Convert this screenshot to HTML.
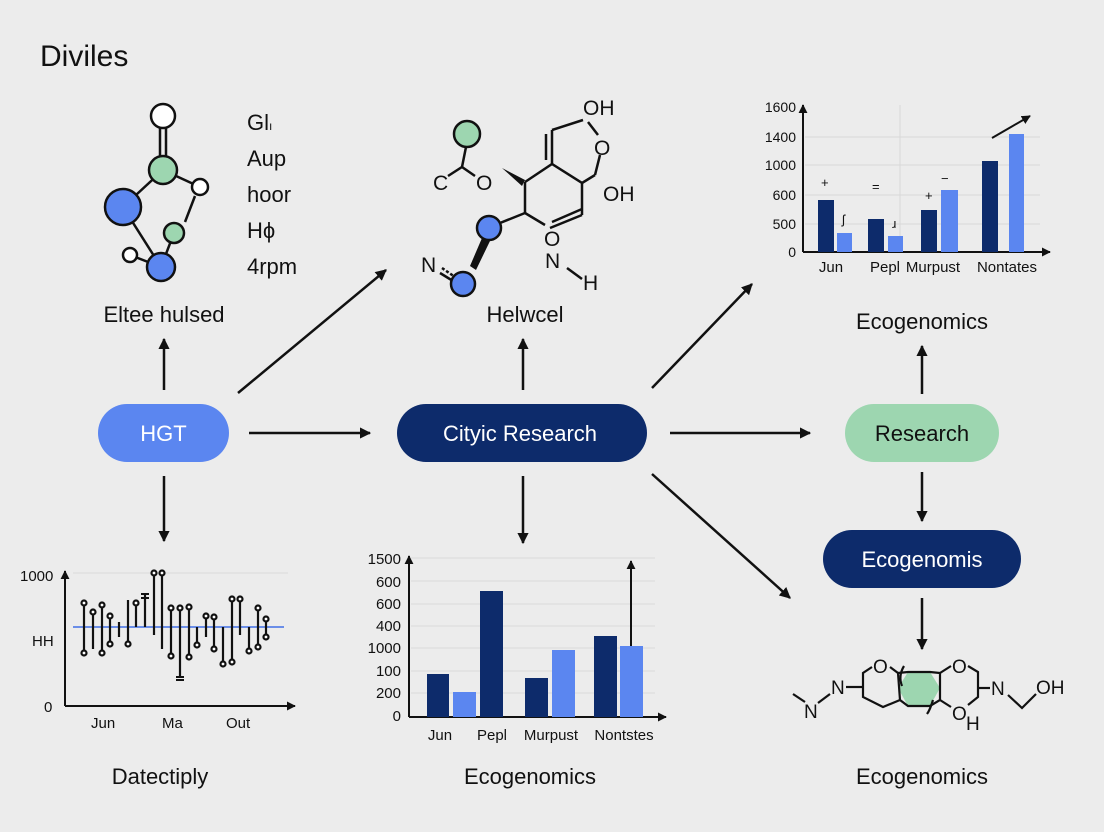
<!DOCTYPE html>
<html><head><meta charset="utf-8"><style>
html,body{margin:0;padding:0;background:#ececec;}
svg{display:block;font-family:"Liberation Sans",sans-serif;}
</style></head><body>
<svg width="1104" height="832" viewBox="0 0 1104 832" xmlns="http://www.w3.org/2000/svg">
<defs>
<marker id="ah" viewBox="0 0 10 10" refX="9" refY="5" markerWidth="4.5" markerHeight="4.5" orient="auto"><path d="M0,0 L10,5 L0,10 z" fill="#111"/></marker>
</defs>
<rect width="1104" height="832" fill="#ececec"/>
<text x="40" y="66" font-size="30" fill="#111" font-weight="500">Diviles</text>

<!-- pills -->
<rect x="98" y="404" width="131" height="58" rx="29" fill="#5b86f0"/>
<text x="163.5" y="441" font-size="22" fill="#fff" text-anchor="middle">HGT</text>
<rect x="397" y="404" width="250" height="58" rx="29" fill="#0d2b6b"/>
<text x="520" y="441" font-size="22" fill="#fff" text-anchor="middle">Cityic Research</text>
<rect x="845" y="404" width="154" height="58" rx="29" fill="#9dd6b0"/>
<text x="922" y="441" font-size="22" fill="#111" text-anchor="middle">Research</text>
<rect x="823" y="530" width="198" height="58" rx="29" fill="#0d2b6b"/>
<text x="922" y="567" font-size="22" fill="#fff" text-anchor="middle">Ecogenomis</text>

<!-- arrows -->
<g stroke="#111" stroke-width="2.5" marker-end="url(#ah)">
<line x1="249" y1="433" x2="370" y2="433"/>
<line x1="670" y1="433" x2="810" y2="433"/>
<line x1="164" y1="390" x2="164" y2="339"/>
<line x1="164" y1="476" x2="164" y2="541"/>
<line x1="523" y1="390" x2="523" y2="339"/>
<line x1="523" y1="476" x2="523" y2="543"/>
<line x1="238" y1="393" x2="386" y2="270"/>
<line x1="652" y1="388" x2="752" y2="284"/>
<line x1="652" y1="474" x2="790" y2="598"/>
<line x1="922" y1="394" x2="922" y2="346"/>
<line x1="922" y1="472" x2="922" y2="521"/>
<line x1="922" y1="598" x2="922" y2="649"/>
</g>

<!-- labels -->
<g font-size="22" fill="#111" text-anchor="middle">
<text x="164" y="322">Eltee hulsed</text>
<text x="525" y="322">Helwcel</text>
<text x="922" y="329">Ecogenomics</text>
<text x="160" y="784">Datectiply</text>
<text x="530" y="784">Ecogenomics</text>
<text x="922" y="784">Ecogenomics</text>
</g>

<!-- top-left molecule -->
<g stroke="#111" stroke-width="2.5" fill="none">
<line x1="160" y1="128" x2="160" y2="157"/><line x1="166" y1="128" x2="166" y2="157"/>
<line x1="163" y1="170" x2="123" y2="207"/>
<line x1="163" y1="170" x2="200" y2="187"/>
<line x1="195" y1="196" x2="185" y2="222"/>
<line x1="174" y1="233" x2="161" y2="267"/>
<line x1="123" y1="207" x2="161" y2="267"/>
<line x1="130" y1="255" x2="161" y2="267"/>
</g>
<g stroke="#111" stroke-width="2.5">
<circle cx="163" cy="116" r="12" fill="#fff"/>
<circle cx="163" cy="170" r="14" fill="#9dd6b0"/>
<circle cx="123" cy="207" r="18" fill="#5b86f0"/>
<circle cx="200" cy="187" r="8" fill="#fff"/>
<circle cx="174" cy="233" r="10" fill="#9dd6b0"/>
<circle cx="130" cy="255" r="7" fill="#fff"/>
<circle cx="161" cy="267" r="14" fill="#5b86f0"/>
</g>
<g font-size="22" fill="#111">
<text x="247" y="130">Gl<tspan font-size="12">ı</tspan></text>
<text x="247" y="166">Aup</text>
<text x="247" y="202">hoor</text>
<text x="247" y="238">Hϕ</text>
<text x="247" y="274">4rpm</text>
</g>

<!-- center molecule -->
<g stroke="#111" stroke-width="2.5" fill="none">
<polyline points="448,176 462,167 475,176"/>
<line x1="466" y1="147" x2="462" y2="167"/>
<polyline points="525,182 552,164 582,183 582,215"/>
<line x1="525" y1="182" x2="525" y2="213"/>
<line x1="525" y1="213" x2="545" y2="225"/>
<line x1="552" y1="222" x2="582" y2="209"/>
<line x1="550" y1="228" x2="582" y2="215"/>
<line x1="552" y1="164" x2="552" y2="130"/><line x1="546" y1="160" x2="546" y2="134"/>
<line x1="552" y1="130" x2="583" y2="120"/>
<line x1="588" y1="122" x2="598" y2="135"/>
<line x1="600" y1="155" x2="595" y2="175"/>
<line x1="595" y1="175" x2="582" y2="183"/>
<line x1="525" y1="213" x2="495" y2="225"/>
<line x1="567" y1="268" x2="582" y2="279"/>
<line x1="442" y1="268" x2="455" y2="277" stroke-dasharray="3 2"/>
<line x1="440" y1="273" x2="453" y2="281"/>
</g>
<polygon points="502,168 525,180 522,186" fill="#111"/>
<polygon points="482,238 490,241 476,270 470,266" fill="#111"/>
<g stroke="#111" stroke-width="2.5">
<circle cx="467" cy="134" r="13" fill="#9dd6b0"/>
<circle cx="489" cy="228" r="12" fill="#5b86f0"/>
<circle cx="463" cy="284" r="12" fill="#5b86f0"/>
</g>
<g font-size="21" fill="#111">
<text x="433" y="190">C</text><text x="476" y="190">O</text>
<text x="583" y="115">OH</text><text x="594" y="155">O</text>
<text x="603" y="201">OH</text>
<text x="544" y="246">O</text><text x="545" y="268">N</text><text x="583" y="290">H</text>
<text x="421" y="272">N</text>
</g>

<!-- top-right chart -->
<g stroke="#d8d8d8" stroke-width="1">
<line x1="805" y1="137" x2="1040" y2="137"/><line x1="805" y1="165" x2="1040" y2="165"/>
<line x1="805" y1="195" x2="1040" y2="195"/><line x1="805" y1="224" x2="1040" y2="224"/>
<line x1="900" y1="105" x2="900" y2="250"/>
</g>
<line x1="803" y1="252" x2="803" y2="105" stroke="#111" stroke-width="2" marker-end="url(#ah)"/>
<line x1="803" y1="252" x2="1050" y2="252" stroke="#111" stroke-width="2" marker-end="url(#ah)"/>
<g font-size="14" fill="#111" text-anchor="end">
<text x="796" y="112">1600</text><text x="796" y="142">1400</text><text x="796" y="170">1000</text>
<text x="796" y="200">600</text><text x="796" y="229">500</text><text x="796" y="257">0</text>
</g>
<g fill="#0d2b6b"><rect x="818" y="200" width="16" height="52"/><rect x="868" y="219" width="16" height="33"/><rect x="921" y="210" width="16" height="42"/><rect x="982" y="161" width="16" height="91"/></g>
<g fill="#5b86f0"><rect x="837" y="233" width="15" height="19"/><rect x="888" y="236" width="15" height="16"/><rect x="941" y="190" width="17" height="62"/><rect x="1009" y="134" width="15" height="118"/></g>
<line x1="992" y1="138" x2="1030" y2="116" stroke="#111" stroke-width="2" marker-end="url(#ah)"/>
<g font-size="13" fill="#111"><text x="821" y="187">+</text><text x="872" y="191">=</text><text x="925" y="200">+</text><text x="941" y="183">−</text><text x="842" y="224">ʃ</text><text x="892" y="228">ɹ</text></g>
<g font-size="15" fill="#111" text-anchor="middle">
<text x="831" y="272">Jun</text><text x="885" y="272">Pepl</text><text x="933" y="272">Murpust</text><text x="1007" y="272">Nontates</text>
</g>

<!-- bottom-center chart -->
<g stroke="#dadada" stroke-width="1">
<line x1="411" y1="558" x2="655" y2="558"/><line x1="411" y1="581" x2="655" y2="581"/><line x1="411" y1="604" x2="655" y2="604"/>
<line x1="411" y1="626" x2="655" y2="626"/><line x1="411" y1="648" x2="655" y2="648"/><line x1="411" y1="671" x2="655" y2="671"/><line x1="411" y1="693" x2="655" y2="693"/>
</g>
<line x1="409" y1="717" x2="409" y2="556" stroke="#111" stroke-width="2" marker-end="url(#ah)"/>
<line x1="409" y1="717" x2="666" y2="717" stroke="#111" stroke-width="2" marker-end="url(#ah)"/>
<g font-size="15" fill="#111" text-anchor="end">
<text x="401" y="564">1500</text><text x="401" y="587">600</text><text x="401" y="609">600</text><text x="401" y="631">400</text>
<text x="401" y="653">1000</text><text x="401" y="676">100</text><text x="401" y="698">200</text><text x="401" y="721">0</text>
</g>
<g fill="#0d2b6b"><rect x="427" y="674" width="22" height="43"/><rect x="480" y="591" width="23" height="126"/><rect x="525" y="678" width="23" height="39"/><rect x="594" y="636" width="23" height="81"/></g>
<g fill="#5b86f0"><rect x="453" y="692" width="23" height="25"/><rect x="552" y="650" width="23" height="67"/><rect x="620" y="646" width="23" height="71"/></g>
<line x1="631" y1="646" x2="631" y2="561" stroke="#111" stroke-width="2" marker-end="url(#ah)"/>
<g font-size="15" fill="#111" text-anchor="middle">
<text x="440" y="740">Jun</text><text x="492" y="740">Pepl</text><text x="551" y="740">Murpust</text><text x="624" y="740">Nontstes</text>
</g>

<!-- bottom-left chart -->
<line x1="73" y1="573" x2="288" y2="573" stroke="#dadada"/>
<line x1="65" y1="706" x2="65" y2="571" stroke="#111" stroke-width="2" marker-end="url(#ah)"/>
<line x1="65" y1="706" x2="295" y2="706" stroke="#111" stroke-width="2" marker-end="url(#ah)"/>
<line x1="73" y1="627" x2="284" y2="627" stroke="#6b8ee8" stroke-width="2"/>
<g font-size="15" fill="#111">
<text x="20" y="581">1000</text><text x="32" y="646">HH</text><text x="44" y="712">0</text>
<text x="91" y="728">Jun</text><text x="162" y="728">Ma</text><text x="226" y="728">Out</text>
</g>
<g stroke="#111" stroke-width="2.2" fill="#fff">
<line x1="84" y1="602" x2="84" y2="653"/><circle cx="84" cy="603" r="2.5"/><circle cx="84" cy="653" r="2.5"/>
<line x1="93" y1="612" x2="93" y2="649"/><circle cx="93" cy="612" r="2.5"/>
<line x1="102" y1="605" x2="102" y2="653"/><circle cx="102" cy="605" r="2.5"/><circle cx="102" cy="653" r="2.5"/>
<line x1="110" y1="616" x2="110" y2="644"/><circle cx="110" cy="616" r="2.5"/><circle cx="110" cy="644" r="2.5"/>
<line x1="119" y1="622" x2="119" y2="637"/>
<line x1="128" y1="600" x2="128" y2="644"/><circle cx="128" cy="644" r="2.5"/>
<line x1="136" y1="603" x2="136" y2="627"/><circle cx="136" cy="603" r="2.5"/>
<line x1="145" y1="593" x2="145" y2="627"/>
<line x1="154" y1="573" x2="154" y2="635"/><circle cx="154" cy="573" r="2.5"/>
<line x1="162" y1="573" x2="162" y2="649"/><circle cx="162" cy="573" r="2.5"/>
<line x1="171" y1="608" x2="171" y2="656"/><circle cx="171" cy="608" r="2.5"/><circle cx="171" cy="656" r="2.5"/>
<line x1="180" y1="608" x2="180" y2="678"/><circle cx="180" cy="608" r="2.5"/>
<line x1="189" y1="607" x2="189" y2="657"/><circle cx="189" cy="607" r="2.5"/><circle cx="189" cy="657" r="2.5"/>
<line x1="197" y1="627" x2="197" y2="645"/><circle cx="197" cy="645" r="2.5"/>
<line x1="206" y1="616" x2="206" y2="637"/><circle cx="206" cy="616" r="2.5"/>
<line x1="214" y1="617" x2="214" y2="649"/><circle cx="214" cy="617" r="2.5"/><circle cx="214" cy="649" r="2.5"/>
<line x1="223" y1="627" x2="223" y2="664"/><circle cx="223" cy="664" r="2.5"/>
<line x1="232" y1="599" x2="232" y2="662"/><circle cx="232" cy="599" r="2.5"/><circle cx="232" cy="662" r="2.5"/>
<line x1="240" y1="599" x2="240" y2="635"/><circle cx="240" cy="599" r="2.5"/>
<line x1="249" y1="627" x2="249" y2="651"/><circle cx="249" cy="651" r="2.5"/>
<line x1="258" y1="608" x2="258" y2="647"/><circle cx="258" cy="608" r="2.5"/><circle cx="258" cy="647" r="2.5"/>
<line x1="266" y1="619" x2="266" y2="637"/><circle cx="266" cy="619" r="2.5"/><circle cx="266" cy="637" r="2.5"/>
</g>
<g stroke="#111" stroke-width="2"><line x1="141" y1="594" x2="149" y2="594"/><line x1="141" y1="598" x2="149" y2="598"/><line x1="176" y1="677" x2="184" y2="677"/><line x1="176" y1="680" x2="184" y2="680"/></g>

<!-- bottom-right molecule -->
<polygon points="908,672 930,672 940,688 930,706 908,706 898,688" fill="#9dd6b0"/>
<g stroke="#111" stroke-width="2.2" fill="none">
<line x1="793" y1="694" x2="805" y2="702"/>
<line x1="818" y1="703" x2="830" y2="694"/>
<line x1="846" y1="687" x2="862" y2="687"/>
<polyline points="872,667 863,673 863,697 883,707 900,700"/>
<line x1="890" y1="667" x2="898" y2="673"/>
<polygon points="898,673 908,672 930,672 940,673 940,700 930,706 908,706 900,700"/>
<polyline points="940,673 951,666"/>
<polyline points="968,666 978,672 978,697 968,705"/>
<line x1="940" y1="700" x2="951" y2="707"/>
<line x1="978" y1="688" x2="990" y2="688"/>
<polyline points="1008,695 1022,708 1036,694"/>
<path d="M904,666 Q898,676 902,686"/><path d="M933,700 Q930,710 927,714"/>
</g>
<g font-size="19" fill="#111">
<text x="804" y="718">N</text><text x="831" y="694">N</text>
<text x="873" y="673">O</text><text x="952" y="673">O</text>
<text x="952" y="720">O</text><text x="966" y="730">H</text>
<text x="991" y="695">N</text><text x="1036" y="694">OH</text>
</g>
</svg>
</body></html>
